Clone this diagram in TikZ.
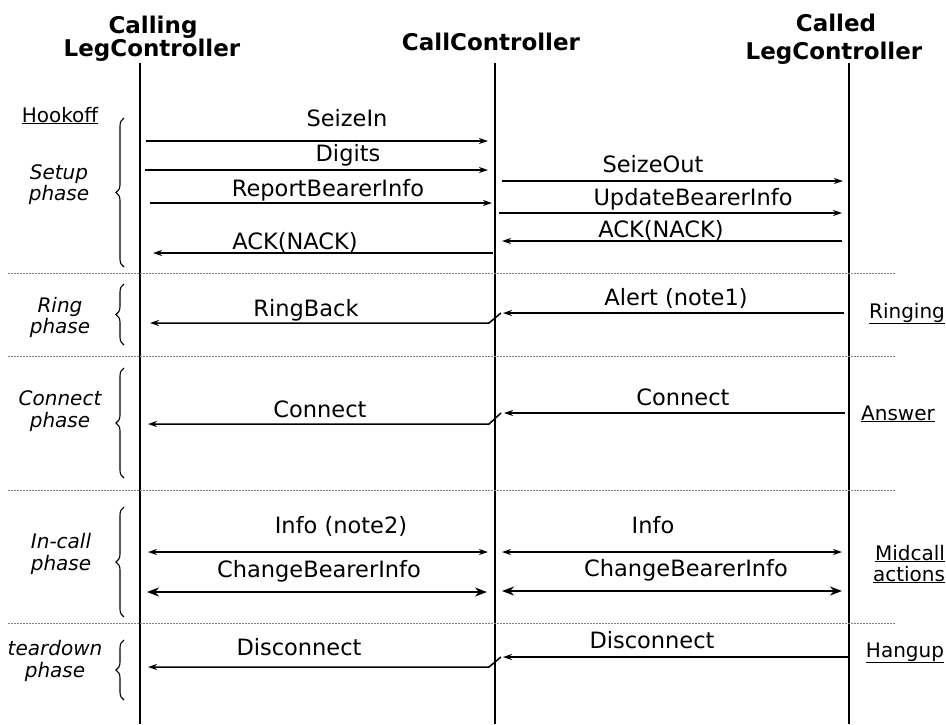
\documentclass[tikz,border=0pt]{standalone}
\usepackage{fontspec}
\setmainfont{DejaVu Sans}
\usetikzlibrary{arrows.meta,decorations.pathreplacing}
\tikzset{
 lifeline/.style={line width=1.5pt},
 msgline/.style={line width=1.5pt,-{Stealth[length=9pt,width=6pt]}},
 biline/.style={line width=1.3pt,{Stealth[length=9pt,width=6pt]}-{Stealth[length=9pt,width=6pt]}},
 thickbi/.style={line width=2.4pt,{Stealth[length=12pt,width=9pt]}-{Stealth[length=12pt,width=9pt]}},
 sepline/.style={line width=0.8pt,gray,dash pattern=on 1.5pt off 1.5pt},
 phasebrace/.style={decorate,decoration={brace,amplitude=8pt},line width=1.1pt},
 lbl/.style={anchor=base,inner sep=0pt,font=\fontsize{22.5}{27}\selectfont},
 hdr/.style={anchor=base,inner sep=0pt,font=\fontsize{23}{27}\selectfont\bfseries},
 phase/.style={anchor=base,inner sep=0pt,font=\fontsize{20}{22}\selectfont\itshape},
 evt/.style={anchor=base,inner sep=0pt,font=\fontsize{20}{22}\selectfont},
}
\begin{document}
\begin{tikzpicture}[x=1pt,y=-1pt]
\useasboundingbox (0,0) rectangle (946,724);
% headers
\node[hdr] (h1a) at (153,33) {Calling};
\node[hdr] (h1b) at (152,56) {LegController};
\node[hdr] (h2) at (491,50) {CallController};
\node[hdr] (h3a) at (836,31) {Called};
\node[hdr] (h3b) at (834,59) {LegController};
% lifelines
\coordinate (A0) at (140,63); \coordinate (A1) at (140,724);
\coordinate (B0) at (495,63); \coordinate (B1) at (495,724);
\coordinate (C0) at (849,63); \coordinate (C1) at (849,724);
\draw[lifeline] (A0) -- (A1);
\draw[lifeline] (B0) -- (B1);
\draw[lifeline] (C0) -- (C1);
% separators
\coordinate (s1a) at (8,273); \coordinate (s1b) at (895,273);
\coordinate (s2a) at (8,356); \coordinate (s2b) at (895,356);
\coordinate (s3a) at (8,490); \coordinate (s3b) at (895,490);
\coordinate (s4a) at (8,623); \coordinate (s4b) at (895,623);
\draw[sepline] (s1a) -- (s1b);
\draw[sepline] (s2a) -- (s2b);
\draw[sepline] (s3a) -- (s3b);
\draw[sepline] (s4a) -- (s4b);
% braces
\coordinate (b1a) at (124,267); \coordinate (b1b) at (124,118);
\coordinate (b2a) at (124,345); \coordinate (b2b) at (124,284);
\coordinate (b3a) at (124,478); \coordinate (b3b) at (124,368);
\coordinate (b4a) at (124,617); \coordinate (b4b) at (124,507);
\coordinate (b5a) at (124,700); \coordinate (b5b) at (124,640);
\draw[phasebrace] (b1a) -- (b1b);
\draw[phasebrace] (b2a) -- (b2b);
\draw[phasebrace] (b3a) -- (b3b);
\draw[phasebrace] (b4a) -- (b4b);
\draw[phasebrace] (b5a) -- (b5b);
% phase labels
\node[phase] (p1a) at (59,179) {Setup};
\node[phase] (p1b) at (59,200) {phase};
\node[phase] (p2a) at (60,312) {Ring};
\node[phase] (p2b) at (60,333) {phase};
\node[phase] (p3a) at (60,405) {Connect};
\node[phase] (p3b) at (60,427) {phase};
\node[phase] (p4a) at (61,548) {In-call};
\node[phase] (p4b) at (61,570) {phase};
\node[phase] (p5a) at (55,655) {teardown};
\node[phase] (p5b) at (55,677) {phase};
% events
\node[evt] (e1) at (60,122) {\underline{Hookoff}};
\node[evt] (e2) at (907,318) {\underline{Ringing}};
\node[evt] (e3) at (898,420) {\underline{Answer}};
\node[evt] (e4a) at (910,560) {\underline{Midcall}};
\node[evt] (e4b) at (909,581) {\underline{actions}};
\node[evt] (e5) at (905,657) {\underline{Hangup}};
% setup messages
\coordinate (m1s) at (146,141); \coordinate (m1e) at (488,141);
\draw[msgline] (m1s) -- (m1e);
\node[lbl] (l1) at (347,126) {SeizeIn};
\coordinate (m2s) at (145,170); \coordinate (m2e) at (488,170);
\draw[msgline] (m2s) -- (m2e);
\node[lbl] (l2) at (348,161) {Digits};
\coordinate (m3s) at (150,203); \coordinate (m3e) at (492,203);
\draw[msgline] (m3s) -- (m3e);
\node[lbl] (l3) at (328,196) {ReportBearerInfo};
\coordinate (m4s) at (493,253); \coordinate (m4e) at (153,253);
\draw[msgline] (m4s) -- (m4e);
\node[lbl] (l4) at (295,249) {ACK(NACK)};
\coordinate (m5s) at (502,181); \coordinate (m5e) at (843,181);
\draw[msgline] (m5s) -- (m5e);
\node[lbl] (l5) at (653,172) {SeizeOut};
\coordinate (m6s) at (499,213); \coordinate (m6e) at (842,213);
\draw[msgline] (m6s) -- (m6e);
\node[lbl] (l6) at (693,205) {UpdateBearerInfo};
\coordinate (m7s) at (842,241); \coordinate (m7e) at (502,241);
\draw[msgline] (m7s) -- (m7e);
\node[lbl] (l7) at (661,237) {ACK(NACK)};
% ring
\coordinate (m8s) at (844,313); \coordinate (m8e) at (503,313);
\draw[msgline] (m8s) -- (m8e);
\node[lbl] (l8) at (676,305) {Alert (note1)};
\coordinate (m9s) at (501,313); \coordinate (m9k) at (489,323); \coordinate (m9e) at (150,323);
\draw[msgline] (m9s) -- (m9k) -- (m9e);
\node[lbl] (l9) at (306,316) {RingBack};
% connect
\coordinate (m10s) at (845,413); \coordinate (m10e) at (504,413);
\draw[msgline] (m10s) -- (m10e);
\node[lbl] (l10) at (683,405) {Connect};
\coordinate (m11s) at (501,413); \coordinate (m11k) at (489,424); \coordinate (m11e) at (148,424);
\draw[msgline] (m11s) -- (m11k) -- (m11e);
\node[lbl] (l11) at (320,417) {Connect};
% in-call
\coordinate (m12s) at (148,552); \coordinate (m12e) at (488,552);
\draw[biline] (m12s) -- (m12e);
\node[lbl] (l12) at (341,533) {Info (note2)};
\coordinate (m13s) at (502,552); \coordinate (m13e) at (842,552);
\draw[biline] (m13s) -- (m13e);
\node[lbl] (l13) at (653,533) {Info};
\coordinate (m14s) at (147,592); \coordinate (m14e) at (487,592);
\draw[thickbi] (m14s) -- (m14e);
\node[lbl] (l14) at (319,577) {ChangeBearerInfo};
\coordinate (m15s) at (502,591); \coordinate (m15e) at (842,591);
\draw[thickbi] (m15s) -- (m15e);
\node[lbl] (l15) at (686,576) {ChangeBearerInfo};
% teardown
\coordinate (m16s) at (850,657); \coordinate (m16e) at (503,657);
\draw[msgline] (m16s) -- (m16e);
\node[lbl] (l16) at (652,648) {Disconnect};
\coordinate (m17s) at (501,657); \coordinate (m17k) at (489,667); \coordinate (m17e) at (148,667);
\draw[msgline] (m17s) -- (m17k) -- (m17e);
\node[lbl] (l17) at (299,655) {Disconnect};
\end{tikzpicture}
\end{document}
